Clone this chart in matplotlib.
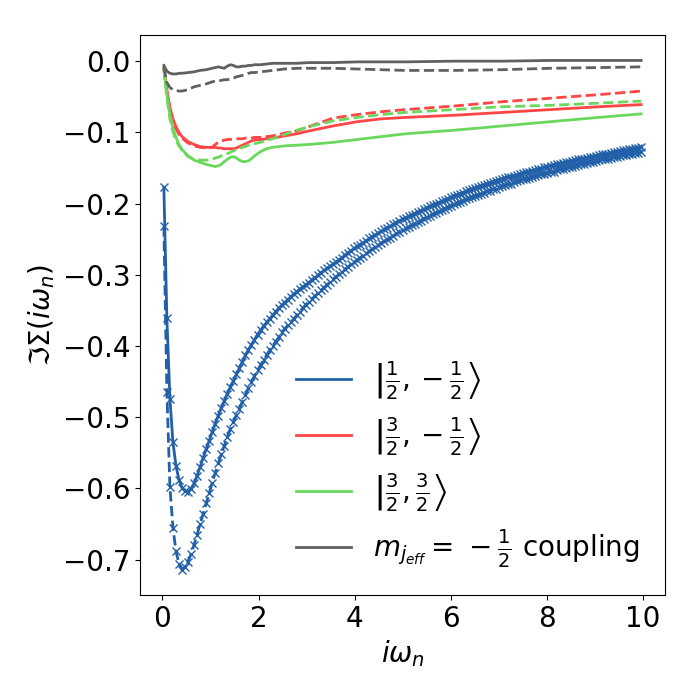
import numpy as np
import matplotlib
matplotlib.use("Agg")
import matplotlib.pyplot as plt
from matplotlib.lines import Line2D

plt.rcParams['font.size'] = 20

# Matsubara grid, beta = 100
beta = 100
wn = np.pi * (2 * np.arange(159) + 1) / beta

# |1/2,-1/2> : solid and dashed, one value per Matsubara point
s_half = [
    -0.177, -0.361, -0.474, -0.535, -0.568, -0.588, -0.599, -0.604, -0.605, -0.601,
    -0.593, -0.582, -0.570, -0.557, -0.545, -0.533, -0.521, -0.509, -0.498, -0.487,
    -0.477, -0.467, -0.458, -0.449, -0.440, -0.431, -0.422, -0.413, -0.405, -0.398,
    -0.391, -0.384, -0.378, -0.372, -0.367, -0.362, -0.357, -0.352, -0.347, -0.343,
    -0.339, -0.335, -0.331, -0.327, -0.324, -0.320, -0.317, -0.314, -0.311, -0.307,
    -0.304, -0.301, -0.297, -0.294, -0.291, -0.288, -0.285, -0.282, -0.279, -0.276,
    -0.272, -0.269, -0.266, -0.263, -0.260, -0.258, -0.255, -0.252, -0.249, -0.247,
    -0.244, -0.241, -0.239, -0.236, -0.234, -0.232, -0.229, -0.227, -0.224, -0.222,
    -0.220, -0.218, -0.216, -0.214, -0.212, -0.210, -0.208, -0.206, -0.204, -0.202,
    -0.200, -0.199, -0.197, -0.195, -0.193, -0.191, -0.189, -0.188, -0.186, -0.185,
    -0.183, -0.181, -0.180, -0.178, -0.177, -0.175, -0.174, -0.172, -0.171, -0.170,
    -0.168, -0.167, -0.166, -0.164, -0.163, -0.162, -0.161, -0.160, -0.158, -0.157,
    -0.156, -0.155, -0.154, -0.153, -0.152, -0.151, -0.149, -0.148, -0.147, -0.146,
    -0.145, -0.144, -0.143, -0.142, -0.141, -0.140, -0.139, -0.138, -0.137, -0.137,
    -0.136, -0.135, -0.134, -0.133, -0.132, -0.131, -0.131, -0.130, -0.129, -0.128,
    -0.127, -0.126, -0.125, -0.125, -0.124, -0.123, -0.122, -0.122, -0.121,
]
d_half = [
    -0.232, -0.464, -0.598, -0.655, -0.688, -0.706, -0.714, -0.711, -0.703, -0.692,
    -0.679, -0.665, -0.650, -0.636, -0.621, -0.607, -0.592, -0.578, -0.565, -0.552,
    -0.540, -0.528, -0.517, -0.507, -0.497, -0.488, -0.478, -0.469, -0.459, -0.451,
    -0.442, -0.434, -0.427, -0.420, -0.413, -0.406, -0.400, -0.394, -0.388, -0.381,
    -0.376, -0.371, -0.367, -0.362, -0.357, -0.352, -0.347, -0.342, -0.338, -0.334,
    -0.330, -0.326, -0.322, -0.318, -0.314, -0.310, -0.306, -0.303, -0.299, -0.296,
    -0.292, -0.289, -0.285, -0.282, -0.279, -0.276, -0.273, -0.270, -0.267, -0.264,
    -0.261, -0.258, -0.255, -0.253, -0.250, -0.248, -0.245, -0.242, -0.240, -0.237,
    -0.235, -0.233, -0.230, -0.228, -0.226, -0.224, -0.221, -0.219, -0.217, -0.215,
    -0.213, -0.211, -0.209, -0.207, -0.205, -0.203, -0.201, -0.199, -0.198, -0.196,
    -0.194, -0.192, -0.191, -0.189, -0.188, -0.186, -0.185, -0.183, -0.182, -0.180,
    -0.179, -0.177, -0.176, -0.174, -0.173, -0.172, -0.170, -0.169, -0.167, -0.166,
    -0.165, -0.164, -0.162, -0.161, -0.160, -0.159, -0.158, -0.157, -0.156, -0.155,
    -0.153, -0.152, -0.151, -0.150, -0.149, -0.148, -0.147, -0.146, -0.145, -0.144,
    -0.143, -0.142, -0.141, -0.140, -0.139, -0.138, -0.138, -0.137, -0.136, -0.135,
    -0.134, -0.133, -0.132, -0.132, -0.131, -0.130, -0.129, -0.129, -0.128,
]

# the other orbitals, read at a subset of Matsubara points
line_idx = [0, 1, 2, 3, 4, 5, 6, 8, 10, 12, 14, 16, 17, 18, 19, 20, 21, 22, 23, 24,
            25, 26, 27, 28, 29, 30, 32, 34, 36, 40, 44, 48, 56, 64, 72, 80, 96, 112,
            128, 144, 158]

s_32m = [-0.010, -0.040, -0.065, -0.081, -0.092, -0.100, -0.106, -0.113, -0.117, -0.120,
         -0.121, -0.121, -0.121, -0.122, -0.122, -0.123, -0.123, -0.123, -0.123, -0.122,
         -0.120, -0.118, -0.116, -0.114, -0.112, -0.111, -0.110, -0.109, -0.108, -0.105,
         -0.102, -0.098, -0.091, -0.085, -0.081, -0.079, -0.076, -0.072, -0.068, -0.064,
         -0.061]
d_32m = [-0.010, -0.043, -0.068, -0.084, -0.095, -0.103, -0.108, -0.115, -0.119, -0.121,
         -0.122, -0.121, -0.117, -0.114, -0.112, -0.111, -0.110, -0.110, -0.109, -0.109,
         -0.109, -0.109, -0.108, -0.108, -0.108, -0.107, -0.107, -0.106, -0.105, -0.101,
         -0.098, -0.092, -0.080, -0.075, -0.071, -0.068, -0.063, -0.057, -0.052, -0.047,
         -0.042]
s_32p = [-0.010, -0.046, -0.075, -0.094, -0.107, -0.117, -0.124, -0.133, -0.139, -0.142,
         -0.145, -0.147, -0.148, -0.147, -0.145, -0.141, -0.138, -0.135, -0.134, -0.136,
         -0.139, -0.141, -0.141, -0.140, -0.137, -0.133, -0.127, -0.123, -0.121, -0.119,
         -0.118, -0.117, -0.114, -0.110, -0.106, -0.102, -0.097, -0.091, -0.085, -0.079,
         -0.074]
d_32p = [-0.012, -0.051, -0.081, -0.099, -0.111, -0.119, -0.125, -0.134, -0.138, -0.139,
         -0.139, -0.138, -0.136, -0.135, -0.133, -0.132, -0.130, -0.128, -0.126, -0.124,
         -0.123, -0.121, -0.120, -0.118, -0.117, -0.116, -0.114, -0.111, -0.109, -0.103,
         -0.097, -0.092, -0.084, -0.079, -0.075, -0.072, -0.068, -0.064, -0.062, -0.059,
         -0.056]
s_coup = [-0.006, -0.014, -0.017, -0.018, -0.018, -0.017, -0.017, -0.016, -0.015, -0.013,
          -0.012, -0.010, -0.009, -0.008, -0.009, -0.010, -0.007, -0.005, -0.006, -0.008,
          -0.008, -0.007, -0.007, -0.006, -0.006, -0.005, -0.005, -0.004, -0.003, -0.003,
          -0.003, -0.002, -0.002, -0.001, -0.001, -0.001, 0.000, 0.000, 0.001, 0.001,
          0.001]
d_coup = [-0.008, -0.030, -0.037, -0.040, -0.041, -0.042, -0.042, -0.040, -0.036, -0.034,
          -0.032, -0.029, -0.028, -0.028, -0.027, -0.026, -0.026, -0.025, -0.024, -0.022,
          -0.021, -0.020, -0.019, -0.017, -0.016, -0.016, -0.015, -0.014, -0.013, -0.011,
          -0.010, -0.010, -0.010, -0.011, -0.012, -0.013, -0.013, -0.012, -0.010, -0.009,
          -0.008]

labels = [r'$\left|\frac{1}{2}, -\frac{1}{2}\right\rangle$',
          r'$\left|\frac{3}{2}, -\frac{1}{2}\right\rangle$',
          r'$\left|\frac{3}{2}, \frac{3}{2}\right\rangle$',
          r'$m_{j_{eff}} =\,-\frac{1}{2}$ coupling']

blue = '#2160a8'
red = '#ff4545'
green = '#6ad85c'
gray = '#606060'
colors = [blue, red, green, gray]

x_line = wn[line_idx]

fig = plt.figure(figsize=(7, 7), dpi=100)
ax = fig.add_axes([0.2, 0.15, 0.75, 0.8])

ax.plot(wn, s_half, color=blue, lw=2, marker='x', ms=6)
ax.plot(wn, d_half, color=blue, lw=2, ls='--', marker='x', ms=6)
ax.plot(x_line, s_32m, color=red, lw=2)
ax.plot(x_line, d_32m, color=red, lw=2, ls='--')
ax.plot(x_line, s_32p, color=green, lw=2)
ax.plot(x_line, d_32p, color=green, lw=2, ls='--')
ax.plot(x_line, s_coup, color=gray, lw=2)
ax.plot(x_line, d_coup, color=gray, lw=2, ls='--')

ax.set_xlabel(r'$i\omega_n$')
ax.set_ylabel(r'$\Im\Sigma(i\omega_n)$')

# legend shows plain solid lines only
handles = [Line2D([], [], color=c, lw=2) for c in colors]
ax.legend(handles, labels, loc='lower right', frameon=False)

fig.savefig('out.png', dpi=100)
